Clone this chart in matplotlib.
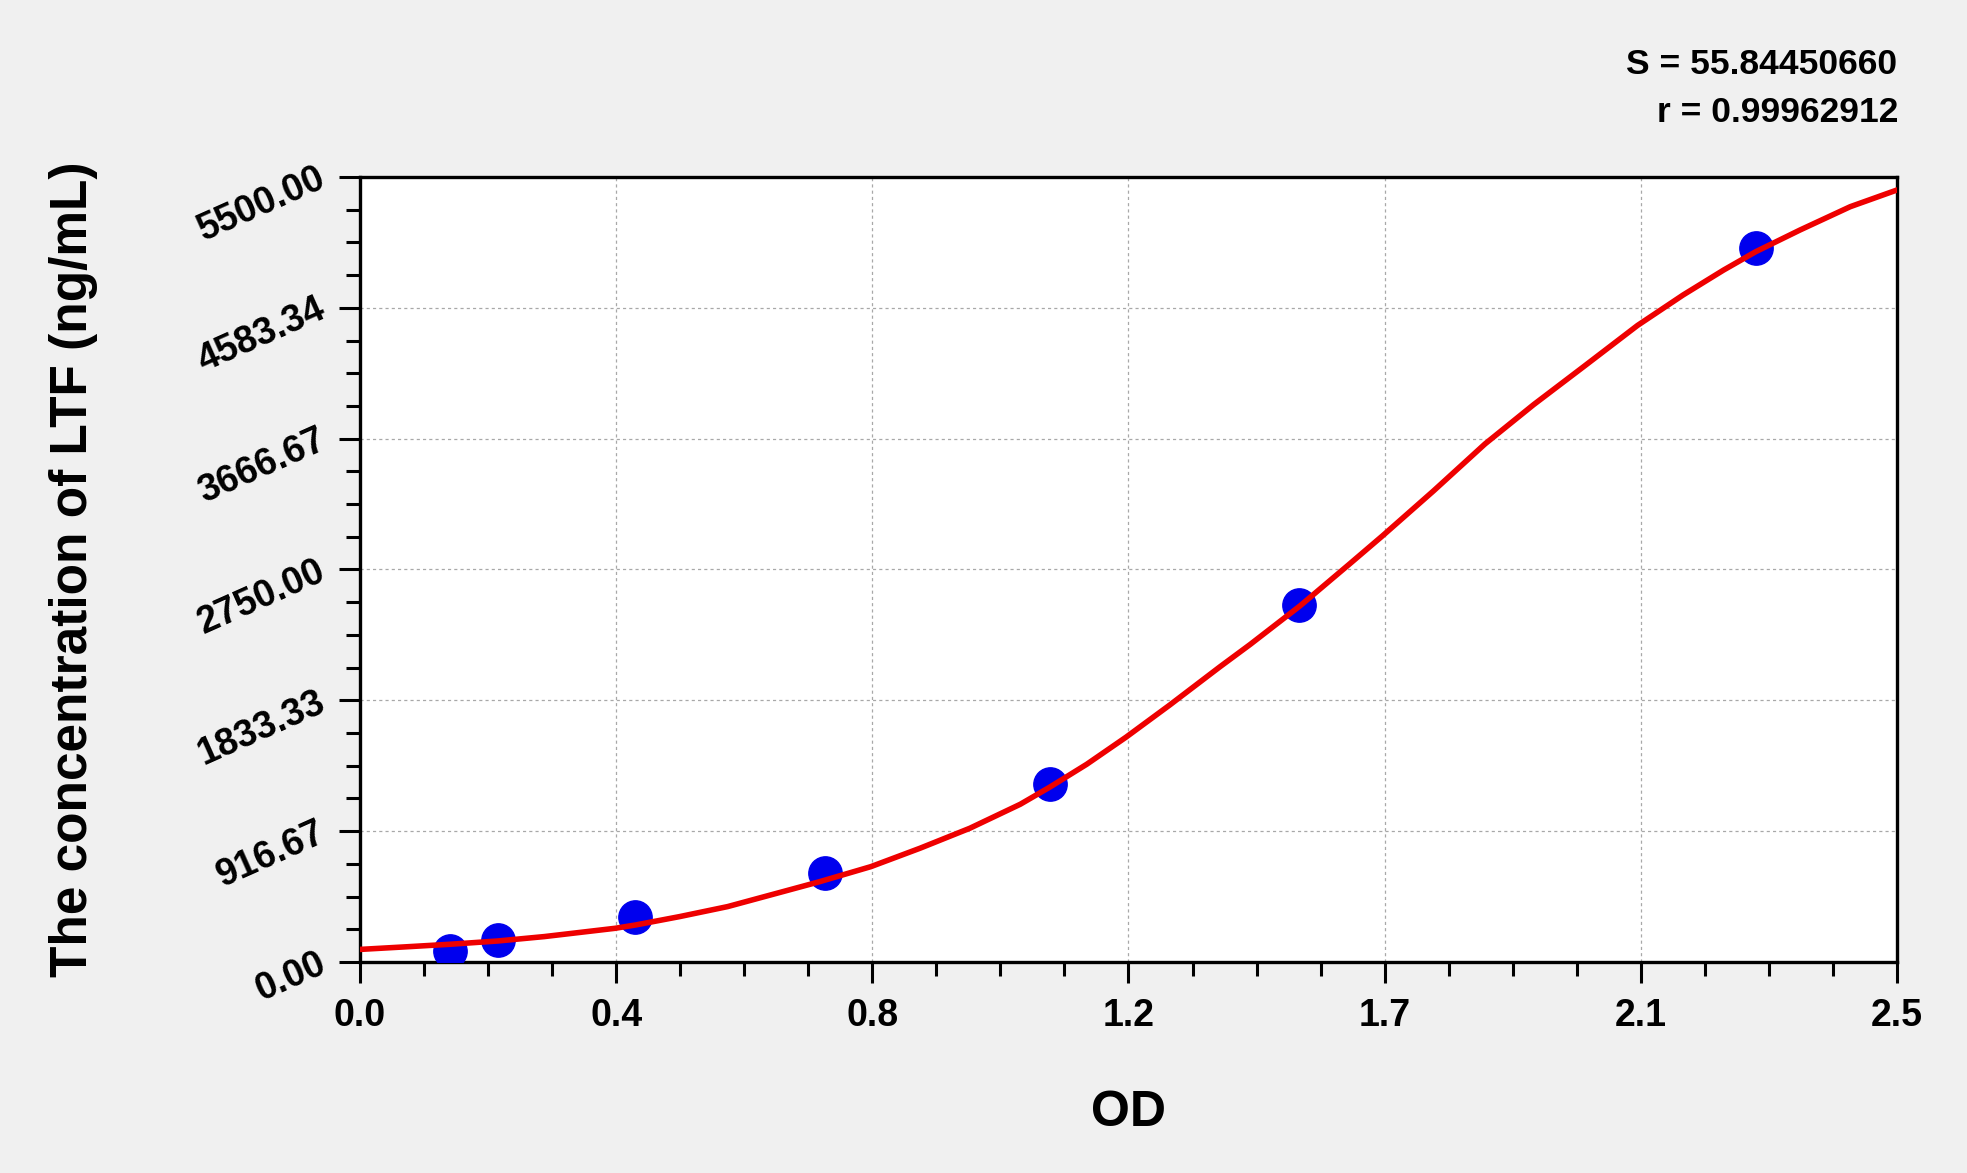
import numpy as np
import matplotlib
matplotlib.use("Agg")
import matplotlib.pyplot as plt
from matplotlib.ticker import AutoMinorLocator, FixedLocator, FixedFormatter

plt.rcParams['font.family'] = ['Liberation Sans', 'DejaVu Sans']
plt.rcParams['font.weight'] = 'bold'

# standard points (OD vs concentration)
od_values = [0.146, 0.224, 0.448, 0.756, 1.123, 1.528, 2.270]
conc_values = [78, 156, 312.5, 625, 1250, 2500, 5000]

# fitted curve
curve_x = [0.0, 0.07, 0.146, 0.224, 0.3, 0.415, 0.448, 0.52, 0.598, 0.748,
           0.831, 0.911, 0.992, 1.074, 1.122, 1.182, 1.246, 1.317, 1.399,
           1.448, 1.529, 1.610, 1.663, 1.746, 1.830, 1.909, 1.990, 2.078,
           2.152, 2.218, 2.270, 2.342, 2.424, 2.5]
curve_y = [88, 105, 124, 147, 178, 236, 259, 318, 388, 563,
           668, 797, 937, 1105, 1225, 1385, 1575, 1800, 2069,
           2225, 2495, 2790, 2985, 3300, 3630, 3905, 4170, 4460,
           4673, 4848, 4976, 5128, 5292, 5409]

x_tick_labels = ['0.0', '0.4', '0.8', '1.2', '1.7', '2.1', '2.5']
y_tick_labels = ['0.00', '916.67', '1833.33', '2750.00', '3666.67', '4583.34', '5500.00']
x_max = 2.5
y_max = 5500.0

stat_lines = ['S = 55.84450660', 'r = 0.99962912']

fig = plt.figure(figsize=(19.67, 11.73), dpi=100, facecolor='#f0f0f0')
ax = fig.add_axes([0.1830, 0.1799, 0.7814, 0.6692])
ax.set_facecolor('white')

ax.plot(od_values, conc_values, 'o', color='#0000ee', markersize=24, zorder=3)
ax.plot(curve_x, curve_y, color='#ee0000', linewidth=4.0, zorder=4,
        solid_capstyle='round', solid_joinstyle='round')

ax.set_xlim(0, x_max)
ax.set_ylim(0, y_max)

x_ticks = np.linspace(0, x_max, len(x_tick_labels))
y_ticks = np.linspace(0, y_max, len(y_tick_labels))
ax.xaxis.set_major_locator(FixedLocator(x_ticks))
ax.xaxis.set_major_formatter(FixedFormatter(x_tick_labels))
ax.yaxis.set_major_locator(FixedLocator(y_ticks))
ax.yaxis.set_major_formatter(FixedFormatter(y_tick_labels))
ax.xaxis.set_minor_locator(AutoMinorLocator(4))
ax.yaxis.set_minor_locator(AutoMinorLocator(4))

ax.grid(True, which='major', color='#a8a8a8', linestyle=(0, (2.5, 2.5)), linewidth=0.9)

for s in ax.spines.values():
    s.set_linewidth(2.4)
    s.set_color('black')

ax.tick_params(which='major', direction='out', length=15, width=2.2, labelsize=27)
ax.tick_params(which='minor', direction='out', length=10, width=2.2)
ax.tick_params(axis='x', which='major', pad=11)
ax.tick_params(axis='y', which='major', pad=11)

for lbl in ax.get_yticklabels():
    lbl.set_rotation(24)
    lbl.set_rotation_mode('anchor')
    lbl.set_ha('right')
    lbl.set_va('center')
    lbl.set_fontweight('bold')
for lbl in ax.get_xticklabels():
    lbl.set_fontweight('bold')

ax.set_xlabel('OD', fontsize=36, fontweight='bold', va='center')
ax.xaxis.set_label_coords(0.5, -0.1924)
ax.set_ylabel('The concentration of LTF (ng/mL)', fontsize=37, fontweight='bold', va='center')
ax.yaxis.set_label_coords(-0.1867, 0.5)

fig.text(0.9644, 0.9454, stat_lines[0], ha='right', va='center', fontsize=25.5, fontweight='bold')
fig.text(0.9650, 0.9037, stat_lines[1], ha='right', va='center', fontsize=25.5, fontweight='bold')

fig.savefig('out.png', dpi=100, facecolor=fig.get_facecolor())
